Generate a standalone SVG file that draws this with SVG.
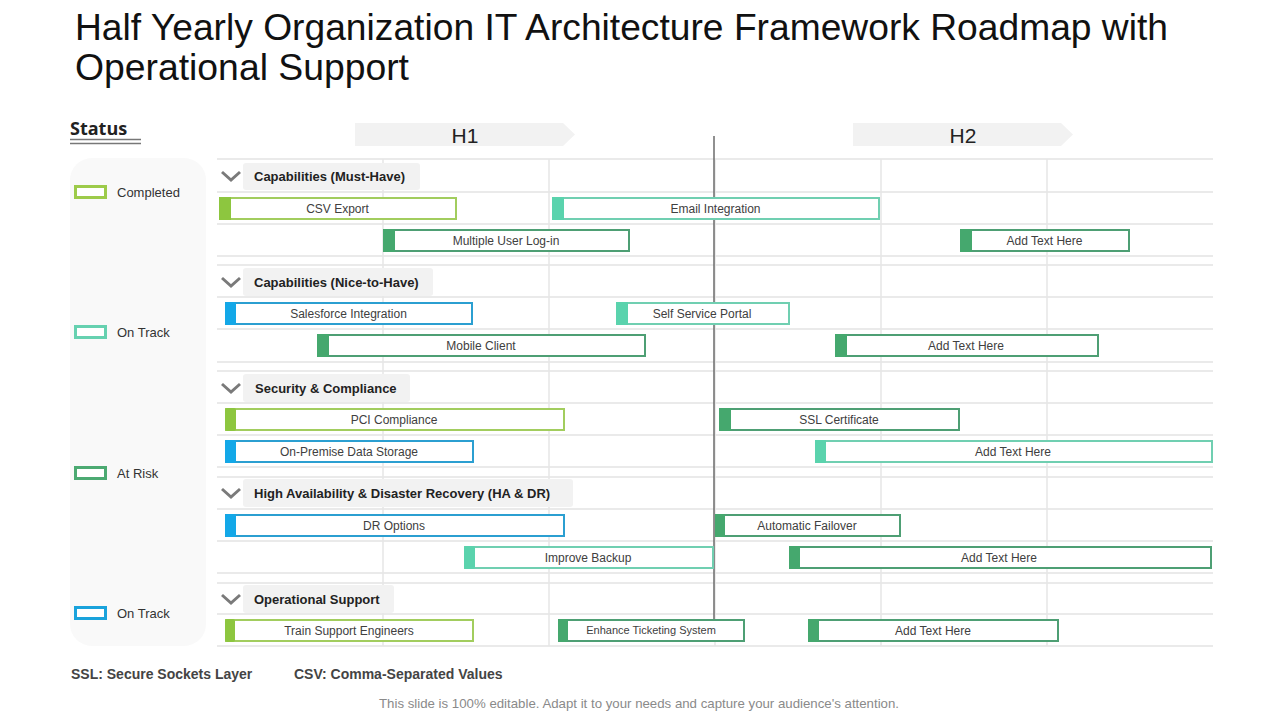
<svg xmlns="http://www.w3.org/2000/svg" width="1280" height="720" viewBox="0 0 1280 720">
<style>
text{font-family:"Liberation Sans",Arial,sans-serif}
.title{font-size:37px;fill:#111}
.hh{font-size:21px;fill:#222;text-anchor:middle}
.sec{font-size:13px;font-weight:bold;fill:#222}
.bt{font-size:12px;fill:#404040;text-anchor:middle}
.lg{font-size:13px;fill:#333}
.fn{font-size:14px;font-weight:bold;fill:#444}
.hline{stroke:#e3e3e3;stroke-width:1.5}
.vline{stroke:#e6e6e6;stroke-width:1.5}
.shdr{fill:#f2f2f2}
.chev{fill:none;stroke:#7a7a7a;stroke-width:3}
.bar{fill:#fff;stroke-width:2}
.lime{stroke:#a2cd5e}.limef{fill:#8dc63f}
.teal{stroke:#70cfb1}.tealf{fill:#5ad3ad}
.dg{stroke:#4e9f74}.dgf{fill:#45a86e}
.blue{stroke:#2b9fd1}.bluef{fill:#13a8e8}
</style>
<rect width="1280" height="720" fill="#fff"/>
<g id="title">
<text class="title" x="75" y="40" textLength="1093" lengthAdjust="spacingAndGlyphs">Half Yearly Organization IT Architecture Framework Roadmap with</text>
<text class="title" x="75" y="80" textLength="334" lengthAdjust="spacingAndGlyphs">Operational Support</text>
</g>
<g id="status-legend">
<text x="70" y="135" style="font-family:'Open Sans','DejaVu Sans',sans-serif;font-size:18px;font-weight:bold;fill:#222">Status</text>
<line x1="70" y1="139.5" x2="141" y2="139.5" stroke="#777" stroke-width="1.5"/>
<line x1="70" y1="143.5" x2="141" y2="143.5" stroke="#777" stroke-width="1.5"/>
<rect x="70" y="158" width="136" height="488" rx="22" fill="#f9f9f9"/>
<g id="legend-completed"><rect x="75.5" y="186.5" width="30" height="11" fill="#fff" stroke="#9dcb4a" stroke-width="3"/><text class="lg" x="117" y="197">Completed</text></g>
<g id="legend-ontrack"><rect x="75.5" y="326.5" width="30" height="11" fill="#fff" stroke="#66d1b0" stroke-width="3"/><text class="lg" x="117" y="337">On Track</text></g>
<g id="legend-atrisk"><rect x="75.5" y="467.5" width="30" height="11" fill="#fff" stroke="#4caa72" stroke-width="3"/><text class="lg" x="117" y="478">At Risk</text></g>
<g id="legend-ontrack2"><rect x="75.5" y="607.5" width="30" height="11" fill="#fff" stroke="#1aa3dc" stroke-width="3"/><text class="lg" x="117" y="618">On Track</text></g>
</g>
<g id="period-headers">
<g id="h1"><polygon points="355,123 563,123 575,134.5 563,146 355,146" fill="#f2f2f2"/><text class="hh" x="465" y="143">H1</text></g>
<g id="h2"><polygon points="853,123 1061,123 1073,134.5 1061,146 853,146" fill="#f2f2f2"/><text class="hh" x="963" y="143">H2</text></g>
</g>
<g id="grid">
<line class="hline" x1="217" y1="159" x2="1213" y2="159"/>
<line class="hline" x1="217" y1="192" x2="1213" y2="192"/>
<line class="hline" x1="217" y1="224" x2="1213" y2="224"/>
<line class="hline" x1="217" y1="256" x2="1213" y2="256"/>
<line class="hline" x1="217" y1="265" x2="1213" y2="265"/>
<line class="hline" x1="217" y1="297" x2="1213" y2="297"/>
<line class="hline" x1="217" y1="329" x2="1213" y2="329"/>
<line class="hline" x1="217" y1="362" x2="1213" y2="362"/>
<line class="hline" x1="217" y1="371" x2="1213" y2="371"/>
<line class="hline" x1="217" y1="403" x2="1213" y2="403"/>
<line class="hline" x1="217" y1="435" x2="1213" y2="435"/>
<line class="hline" x1="217" y1="467" x2="1213" y2="467"/>
<line class="hline" x1="217" y1="477" x2="1213" y2="477"/>
<line class="hline" x1="217" y1="509" x2="1213" y2="509"/>
<line class="hline" x1="217" y1="541" x2="1213" y2="541"/>
<line class="hline" x1="217" y1="573" x2="1213" y2="573"/>
<line class="hline" x1="217" y1="583" x2="1213" y2="583"/>
<line class="hline" x1="217" y1="614" x2="1213" y2="614"/>
<line class="hline" x1="217" y1="646" x2="1213" y2="646"/>
<line class="vline" x1="383" y1="159" x2="383" y2="646"/>
<line class="vline" x1="549" y1="159" x2="549" y2="646"/>
<line class="vline" x1="715" y1="159" x2="715" y2="646"/>
<line class="vline" x1="881" y1="159" x2="881" y2="646"/>
<line class="vline" x1="1047" y1="159" x2="1047" y2="646"/>
</g>
<g id="connectors">
<line id="today-line" x1="714" y1="136" x2="714" y2="619" stroke="#6b6b6b" stroke-width="1.5"/>
</g>
<g id="section-must-have">
<polyline class="chev" points="222,172 231,180 240,172"/>
<rect class="shdr" x="243" y="163" width="177" height="27" rx="3"/>
<text class="sec" x="254" y="181">Capabilities (Must-Have)</text>
</g>
<g id="section-nice-to-have">
<polyline class="chev" points="222,278 231,286 240,278"/>
<rect class="shdr" x="243" y="268" width="190" height="28" rx="3"/>
<text class="sec" x="254" y="287">Capabilities (Nice-to-Have)</text>
</g>
<g id="section-security">
<polyline class="chev" points="222,384 231,392 240,384"/>
<rect class="shdr" x="243" y="374" width="167" height="28" rx="3"/>
<text class="sec" x="255" y="393">Security &amp; Compliance</text>
</g>
<g id="section-ha-dr">
<polyline class="chev" points="222,489 231,497 240,489"/>
<rect class="shdr" x="243" y="479" width="330" height="28" rx="3"/>
<text class="sec" x="254" y="498">High Availability &amp; Disaster Recovery (HA &amp; DR)</text>
</g>
<g id="section-operational">
<polyline class="chev" points="222,595 231,603 240,595"/>
<rect class="shdr" x="243" y="585" width="151" height="28" rx="3"/>
<text class="sec" x="254" y="604">Operational Support</text>
</g>
<g id="bar-csv-export"><rect class="bar lime" x="220" y="198" width="236" height="21"/><rect class="limef" x="219" y="197" width="12" height="23"/><text class="bt" x="337.5" y="213">CSV Export</text></g>
<g id="bar-email-integration"><rect class="bar teal" x="553" y="198" width="326" height="21"/><rect class="tealf" x="552" y="197" width="12" height="23"/><text class="bt" x="715.5" y="213">Email Integration</text></g>
<g id="bar-multiple-user-login"><rect class="bar dg" x="384" y="230" width="245" height="21"/><rect class="dgf" x="383" y="229" width="12" height="23"/><text class="bt" x="506" y="245">Multiple User Log-in</text></g>
<g id="bar-add-text-1"><rect class="bar dg" x="961" y="230" width="168" height="21"/><rect class="dgf" x="960" y="229" width="12" height="23"/><text class="bt" x="1044.5" y="245">Add Text Here</text></g>
<g id="bar-salesforce"><rect class="bar blue" x="226" y="303" width="246" height="21"/><rect class="bluef" x="225" y="302" width="11" height="23" rx="2"/><text class="bt" x="348.5" y="318">Salesforce Integration</text></g>
<g id="bar-self-service"><rect class="bar teal" x="617" y="303" width="172" height="21"/><rect class="tealf" x="616" y="302" width="12" height="23"/><text class="bt" x="702" y="318">Self Service Portal</text></g>
<g id="bar-mobile-client"><rect class="bar dg" x="318" y="335" width="327" height="21"/><rect class="dgf" x="317" y="334" width="12" height="23"/><text class="bt" x="481" y="350">Mobile Client</text></g>
<g id="bar-add-text-2"><rect class="bar dg" x="836" y="335" width="262" height="21"/><rect class="dgf" x="835" y="334" width="12" height="23"/><text class="bt" x="966" y="350">Add Text Here</text></g>
<g id="bar-pci"><rect class="bar lime" x="226" y="409" width="338" height="21"/><rect class="limef" x="225" y="408" width="11" height="23" rx="2"/><text class="bt" x="394" y="424">PCI Compliance</text></g>
<g id="bar-ssl"><rect class="bar dg" x="720" y="409" width="239" height="21"/><rect class="dgf" x="719" y="408" width="12" height="23"/><text class="bt" x="839" y="424">SSL Certificate</text></g>
<g id="bar-on-premise"><rect class="bar blue" x="226" y="441" width="247" height="21"/><rect class="bluef" x="225" y="440" width="11" height="23" rx="2"/><text class="bt" x="349" y="456">On-Premise Data Storage</text></g>
<g id="bar-add-text-3"><rect class="bar teal" x="816" y="441" width="396" height="21"/><rect class="tealf" x="815" y="440" width="11" height="23"/><text class="bt" x="1013" y="456">Add Text Here</text></g>
<g id="bar-dr-options"><rect class="bar blue" x="226" y="515" width="338" height="21"/><rect class="bluef" x="225" y="514" width="11" height="23" rx="2"/><text class="bt" x="394" y="530">DR Options</text></g>
<g id="bar-auto-failover"><rect class="bar dg" x="716" y="515" width="184" height="21"/><rect class="dgf" x="715" y="514" width="10" height="23"/><text class="bt" x="807" y="530">Automatic Failover</text></g>
<g id="bar-improve-backup"><rect class="bar teal" x="465" y="547" width="248" height="21"/><rect class="tealf" x="464" y="546" width="11" height="23" rx="2"/><text class="bt" x="588" y="562">Improve Backup</text></g>
<g id="bar-add-text-4"><rect class="bar dg" x="790" y="547" width="421" height="21"/><rect class="dgf" x="789" y="546" width="11" height="23"/><text class="bt" x="999" y="562">Add Text Here</text></g>
<g id="bar-train-support"><rect class="bar lime" x="226" y="620" width="247" height="21"/><rect class="limef" x="225" y="619" width="10" height="23" rx="2"/><text class="bt" x="349" y="635">Train Support Engineers</text></g>
<g id="bar-enhance-ticketing"><rect class="bar dg" x="559" y="620" width="185" height="21"/><rect class="dgf" x="558" y="619" width="10" height="23" rx="2"/><text class="bt" x="651" y="634" style="font-size:11px">Enhance Ticketing System</text></g>
<g id="bar-add-text-5"><rect class="bar dg" x="809" y="620" width="249" height="21"/><rect class="dgf" x="808" y="619" width="11" height="23"/><text class="bt" x="933" y="635">Add Text Here</text></g>
<g id="footnotes">
<text class="fn" x="71" y="679">SSL: Secure Sockets Layer</text>
<text class="fn" x="294" y="679">CSV: Comma-Separated Values</text>
<text x="379" y="708" textLength="520" lengthAdjust="spacingAndGlyphs" style="font-size:13px;fill:#8a8a8a">This slide is 100% editable. Adapt it to your needs and capture your audience's attention.</text>
</g>
</svg>
